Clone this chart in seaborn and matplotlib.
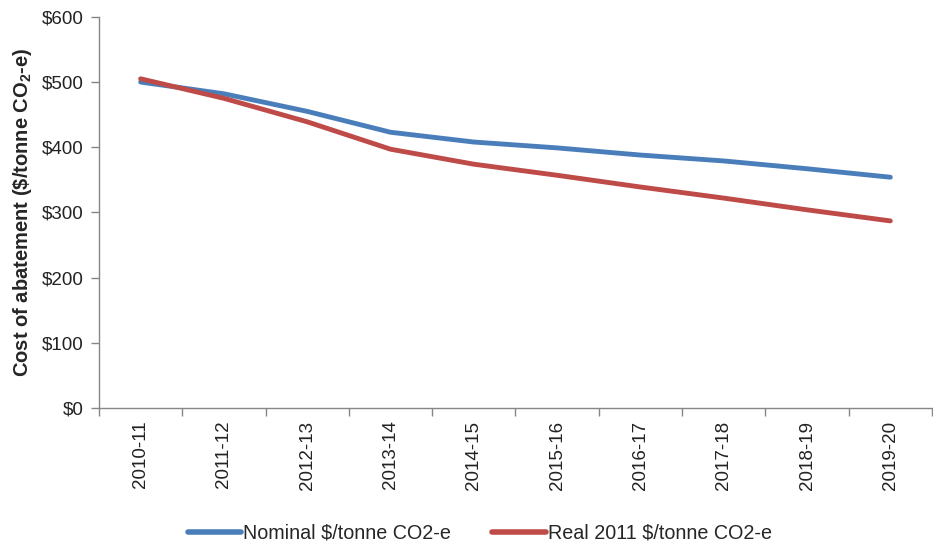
import matplotlib
matplotlib.use("Agg")
import matplotlib.pyplot as plt
import seaborn as sns
import pandas as pd
import numpy as np

# Cost of abatement by financial year
years = ["2010-11", "2011-12", "2012-13", "2013-14", "2014-15",
         "2015-16", "2016-17", "2017-18", "2018-19", "2019-20"]
nominal = [500, 482, 455, 423, 408, 399, 388, 379, 367, 354]
real_2011 = [505, 475, 439, 397, 374, 357, 339, 322, 304, 287]
series_names = ["Nominal $/tonne CO2-e", "Real 2011 $/tonne CO2-e"]
y_ticks = [0, 100, 200, 300, 400, 500, 600]

sns.set_theme(style="white")
plt.rcParams["font.family"] = ["Liberation Sans", "DejaVu Sans"]
plt.rcParams["mathtext.fontset"] = "custom"
plt.rcParams["mathtext.rm"] = "Liberation Sans"
plt.rcParams["mathtext.bf"] = "Liberation Sans:bold"

df = pd.DataFrame({
    "year": years * 2,
    "pos": list(range(len(years))) * 2,
    "value": nominal + real_2011,
    "series": [series_names[0]] * len(years) + [series_names[1]] * len(years),
})

fig = plt.figure(figsize=(9.33, 5.44), dpi=100)
ax = fig.add_axes([0.1061, 0.25, 0.8928, 0.719])

palette = {series_names[0]: "#4A7EBB", series_names[1]: "#BE4B48"}
sns.lineplot(data=df, x="pos", y="value", hue="series", palette=palette,
             linewidth=3.5, ax=ax, legend=True, solid_capstyle="round")

ax.set_xlim(-0.5, len(years) - 0.5)
ax.set_ylim(0, 600)
ax.set_yticks(y_ticks)
ax.set_yticklabels([f"${v}" for v in y_ticks], fontsize=13.5, color="#222222")
ax.set_xticks(range(len(years)))
ax.set_xticklabels(years, rotation=90, fontsize=13.5, color="#222222")
ax.set_xticks(np.arange(-0.5, len(years)), minor=True)
ax.tick_params(axis="x", which="major", length=0, pad=9)
ax.tick_params(axis="x", which="minor", length=6, color="#868686", width=1, direction="out", bottom=True)
ax.tick_params(axis="y", which="major", length=6, color="#868686", width=1, direction="out", left=True, pad=5)

for side in ["top", "right"]:
    ax.spines[side].set_visible(False)
for side in ["left", "bottom"]:
    ax.spines[side].set_color("#868686")
    ax.spines[side].set_linewidth(1)

ax.set_xlabel("")
ax.set_ylabel(r"Cost of abatement (\$/tonne CO$_{\mathbf{2}}$-e)",
              fontsize=14.5, fontweight="bold", labelpad=6)

handles, labels = ax.get_legend_handles_labels()
for h in handles:
    h.set_linewidth(4)
ax.legend(handles, labels, loc="center", bbox_to_anchor=(0.457, -0.320),
          ncol=2, frameon=False, fontsize=14.2, handlelength=2.7,
          handletextpad=0.1, columnspacing=2.1, borderaxespad=0)

fig.savefig("out.png", dpi=100)
